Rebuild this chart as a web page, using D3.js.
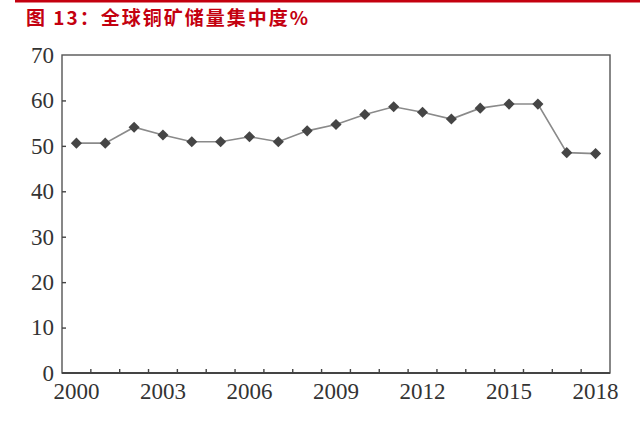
<!DOCTYPE html>
<html>
<head>
<meta charset="utf-8">
<script src="https://cdn.jsdelivr.net/npm/d3@7"></script>
<style>
  html, body { margin: 0; padding: 0; background: #fff; }
  svg { display: block; }
</style>
</head>
<body>
<div id="chart"></div>
<script>
const TITLE = "图 13：全球铜矿储量集中度%";
const years = ["2000", "2001", "2002", "2003", "2004", "2005", "2006", "2007", "2008", "2009",
  "2010", "2011", "2012", "2013", "2014", "2015", "2016", "2017", "2018"];
const shares = [50.6, 50.6, 54.1, 52.4, 50.9, 50.9, 52.0, 50.9, 53.3, 54.7,
  56.9, 58.6, 57.4, 55.9, 58.3, 59.2, 59.2, 48.5, 48.3];
const yTicks = [0, 10, 20, 30, 40, 50, 60, 70];
const xLabels = ["2000", "2003", "2006", "2009", "2012", "2015", "2018"];

const width = 640, height = 422;
const margin = { top: 55, right: 30, bottom: 49, left: 62 };

const svg = d3.select("#chart").append("svg")
  .attr("width", width)
  .attr("height", height);

// red rule + title
svg.append("rect")
  .attr("x", 15).attr("y", 0)
  .attr("width", 625).attr("height", 2.5)
  .attr("fill", "#c4000f");

svg.append("text")
  .attr("x", 26).attr("y", 25)
  .attr("fill", "#c4000f")
  .attr("font-family", "'Noto Sans CJK SC', sans-serif")
  .attr("font-weight", "bold")
  .attr("font-size", 19)
  .attr("letter-spacing", 2)
  .text(TITLE);

const x = d3.scaleBand()
  .domain(years)
  .range([margin.left, width - margin.right]);

const y = d3.scaleLinear()
  .domain([0, 70])
  .range([height - margin.bottom, margin.top]);

const serif = "'Liberation Serif', 'Times New Roman', serif";

// frame
svg.append("rect")
  .attr("x", margin.left).attr("y", margin.top)
  .attr("width", width - margin.left - margin.right)
  .attr("height", height - margin.top - margin.bottom)
  .attr("fill", "none")
  .attr("stroke", "#555")
  .attr("stroke-width", 1.4);

// y axis, ticks pointing inside
const yAxis = svg.append("g")
  .attr("transform", `translate(${margin.left},0)`)
  .call(d3.axisLeft(y).tickValues(yTicks).tickSize(-4).tickPadding(8));
yAxis.select(".domain").remove();
yAxis.selectAll(".tick line")
  .attr("stroke", "#444").attr("stroke-width", 1.4)
  .filter(d => d === 0 || d === 70).remove();
yAxis.selectAll(".tick text")
  .attr("font-family", serif).attr("font-size", 23).attr("fill", "#333");

// x axis: inward ticks on band boundaries, labels every third year
const xAxis = svg.append("g")
  .attr("transform", `translate(0,${height - margin.bottom})`);

xAxis.append("line")
  .attr("x1", margin.left).attr("x2", width - margin.right)
  .attr("stroke", "#444").attr("stroke-width", 2);

xAxis.selectAll(".xtick")
  .data(years.slice(1))
  .join("line")
  .attr("class", "xtick")
  .attr("x1", d => x(d)).attr("x2", d => x(d))
  .attr("y1", 0).attr("y2", -4)
  .attr("stroke", "#444").attr("stroke-width", 1.4);

xAxis.selectAll(".xlabel")
  .data(xLabels)
  .join("text")
  .attr("class", "xlabel")
  .attr("x", d => x(d) + x.bandwidth() / 2)
  .attr("y", 26)
  .attr("text-anchor", "middle")
  .attr("font-family", serif)
  .attr("font-size", 23)
  .attr("fill", "#333")
  .text(d => d);

// line + markers
const cx = (d, i) => x(years[i]) + x.bandwidth() / 2;

svg.append("path")
  .datum(shares)
  .attr("fill", "none")
  .attr("stroke", "#8a8a8a")
  .attr("stroke-width", 1.6)
  .attr("d", d3.line().x(cx).y(d => y(d)));

svg.append("g")
  .selectAll("path")
  .data(shares)
  .join("path")
  .attr("d", d3.symbol(d3.symbolSquare, 62))
  .attr("transform", (d, i) => `translate(${cx(d, i)},${y(d)}) rotate(45)`)
  .attr("fill", "#454545");
</script>
</body>
</html>
